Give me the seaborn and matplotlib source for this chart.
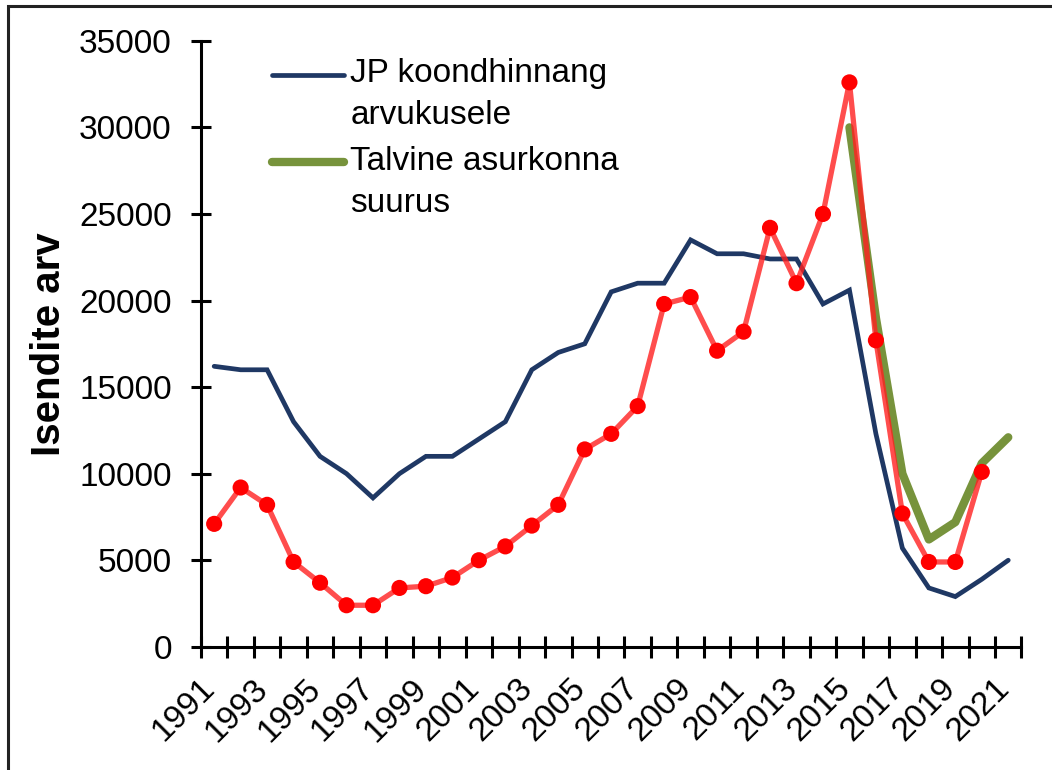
import numpy as np
import pandas as pd
import matplotlib
matplotlib.use("Agg")
import matplotlib.pyplot as plt
import seaborn as sns
from matplotlib.patches import Rectangle
from matplotlib.transforms import ScaledTranslation

years = [1991, 1992, 1993, 1994, 1995, 1996, 1997, 1998, 1999, 2000,
         2001, 2002, 2003, 2004, 2005, 2006, 2007, 2008, 2009, 2010,
         2011, 2012, 2013, 2014, 2015, 2016, 2017, 2018, 2019, 2020, 2021]
jp_estimate = [16200, 16000, 16000, 13000, 11000, 10000, 8600, 10000, 11000, 11000,
               12000, 13000, 16000, 17000, 17500, 20500, 21000, 21000, 23500, 22700,
               22700, 22400, 22400, 19800, 20600, 12300, 5700, 3400, 2900, 3900, 5000]
red_count = [7100, 9200, 8200, 4900, 3700, 2400, 2400, 3400, 3500, 4000,
             5000, 5800, 7000, 8200, 11400, 12300, 13900, 19800, 20200, 17100,
             18200, 24200, 21000, 25000, 32600, 17700, 7700, 4900, 4900, 10100, np.nan]
winter_years = [2015, 2016, 2017, 2018, 2019, 2020, 2021]
winter_size = [30000, 19000, 10000, 6200, 7200, 10600, 12100]

label_jp = "JP koondhinnang\narvukusele"
label_winter = "Talvine asurkonna\nsuurus"
ylabel = "Isendite arv"

sns.set_theme(style="white")
plt.rcParams['font.family'] = ['Liberation Sans', 'DejaVu Sans']
plt.rcParams['text.color'] = 'black'
plt.rcParams['axes.labelcolor'] = 'black'
plt.rcParams['xtick.color'] = 'black'
plt.rcParams['ytick.color'] = 'black'

df_main = pd.DataFrame({"year": years, "jp": jp_estimate, "red": red_count})
df_winter = pd.DataFrame({"year": winter_years, "winter": winter_size})
df_red = df_main.dropna(subset=["red"])

fig = plt.figure(figsize=(10.52, 7.7), dpi=100)
ax = fig.add_axes([0.191, 0.160, 0.780, 0.787])

sns.lineplot(data=df_main, x="year", y="jp", ax=ax, color="#1F3864", linewidth=3.4,
             label=label_jp, solid_joinstyle="miter", solid_capstyle="round")
sns.lineplot(data=df_winter, x="year", y="winter", ax=ax, color="#77933C", linewidth=6,
             label=label_winter, solid_capstyle="round")
sns.lineplot(data=df_red, x="year", y="red", ax=ax, color="#FF2020", linewidth=3.8,
             alpha=0.8, legend=False)
sns.scatterplot(data=df_red, x="year", y="red", ax=ax, color="#FF0000", s=135,
                edgecolor="none", legend=False, zorder=5)

ax.set_xlim(1990.5, 2021.5)
ax.set_ylim(0, 35000)
ax.set_xticks(years[::2])
ax.set_xticklabels([str(y) for y in years[::2]], rotation=45, ha="right",
                   rotation_mode="anchor")
ax.set_xticks(np.arange(1990.5, 2022, 1.0), minor=True)
ax.set_yticks(np.arange(0, 35001, 5000))
ax.tick_params(axis="x", which="major", length=0, pad=16, labelsize=24, colors="black")
ax.tick_params(axis="x", which="minor", direction="inout", length=16, width=2.2,
               color="black", bottom=True)
ax.tick_params(axis="y", which="major", direction="inout", length=14, width=2.2,
               color="black", labelcolor="black", labelsize=24, pad=14, left=True)
shift = ScaledTranslation(-0.15, -0.04, fig.dpi_scale_trans)
for lbl in ax.get_xticklabels():
    lbl.set_transform(lbl.get_transform() + shift)
ax.set_xlabel("")
ax.set_ylabel(ylabel, fontsize=29, fontweight="bold", labelpad=8, color="black")

for side in ["top", "right"]:
    ax.spines[side].set_visible(False)
for side in ["left", "bottom"]:
    ax.spines[side].set_color("black")
    ax.spines[side].set_linewidth(2.2)

leg = ax.legend(loc="upper left", bbox_to_anchor=(272 / 1052, 1 - 58 / 770),
                bbox_transform=fig.transFigure, frameon=False, fontsize=24,
                handlelength=2.15, handletextpad=0.2, borderpad=0, borderaxespad=0,
                labelspacing=0.45)
for t in leg.get_texts():
    t.set_linespacing(1.45)
    t.set_color("black")
for ln in leg.get_lines():
    yd = np.asarray(ln.get_ydata(), dtype=float)
    ln.set_ydata(yd + 14.5)
    ln.set_solid_capstyle("round")

fig.add_artist(Rectangle((8 / 1052, -0.05), 1.2, 1 - 6 / 770 + 0.05,
                         transform=fig.transFigure, fill=False,
                         edgecolor="#222222", linewidth=2.2))

fig.savefig("out.png", dpi=100)
